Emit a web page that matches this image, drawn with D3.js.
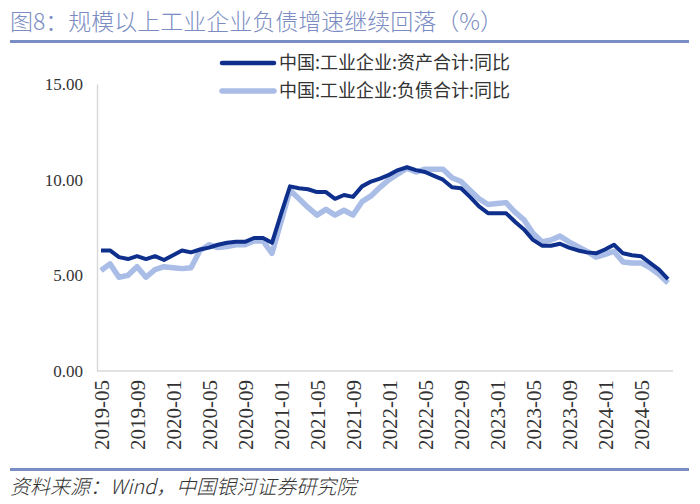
<!DOCTYPE html>
<html><head><meta charset="utf-8">
<script src="https://cdn.jsdelivr.net/npm/d3@7"></script>
<style>
html,body{margin:0;padding:0;background:#fff;}
svg{display:block;}
</style></head>
<body>
<svg id="chart" width="700" height="504"></svg>
<script>
const months = ["2019-05","2019-06","2019-07","2019-08","2019-09","2019-10","2019-11","2019-12",
"2020-01","2020-02","2020-03","2020-04","2020-05","2020-06","2020-07","2020-08","2020-09","2020-10","2020-11","2020-12",
"2021-01","2021-02","2021-03","2021-04","2021-05","2021-06","2021-07","2021-08","2021-09","2021-10","2021-11","2021-12",
"2022-01","2022-02","2022-03","2022-04","2022-05","2022-06","2022-07","2022-08","2022-09","2022-10","2022-11","2022-12",
"2023-01","2023-02","2023-03","2023-04","2023-05","2023-06","2023-07","2023-08","2023-09","2023-10","2023-11","2023-12",
"2024-01","2024-02","2024-03","2024-04","2024-05","2024-06","2024-07","2024-08"];

const assets = [6.3,6.3,5.95,5.85,6.0,5.85,6.0,5.8,
6.05,6.3,6.2,6.35,6.45,6.6,6.7,6.75,6.75,6.95,6.95,6.7,
8.2,9.65,9.55,9.5,9.35,9.35,9.0,9.2,9.1,9.65,9.9,10.05,
10.25,10.5,10.65,10.5,10.4,10.2,10.0,9.6,9.55,9.1,8.6,8.25,
8.25,8.25,7.8,7.4,6.85,6.55,6.55,6.65,6.45,6.3,6.2,6.15,
6.35,6.6,6.15,6.05,6.0,5.65,5.3,4.8];

const liabilities = [5.25,5.6,4.9,5.0,5.45,4.9,5.3,5.45,
5.4,5.35,5.4,6.3,6.6,6.45,6.5,6.6,6.6,6.8,6.8,6.15,
7.8,9.45,9.0,8.55,8.15,8.45,8.15,8.4,8.15,8.85,9.15,9.6,
10.0,10.3,10.6,10.4,10.55,10.55,10.55,10.1,9.9,9.45,9.0,8.7,
8.75,8.8,8.3,7.9,7.2,6.75,6.85,7.05,6.75,6.5,6.25,5.95,
6.1,6.25,5.7,5.65,5.65,5.4,5.05,4.6];

const xTickLabels = ["2019-05","2019-09","2020-01","2020-05","2020-09","2021-01","2021-05","2021-09",
"2022-01","2022-05","2022-09","2023-01","2023-05","2023-09","2024-01","2024-05"];
const yTicks = [0,5,10,15];

const seriesNames = ["中国:工业企业:资产合计:同比","中国:工业企业:负债合计:同比"];
const titleText = "图8：规模以上工业企业负债增速继续回落（%）";
const sourceText = "资料来源：Wind，中国银河证券研究院";

const colors = ["#0e2f8c","#a9bde6"];
const widths = [4,5.5];

const svg = d3.select("#chart");
const CJK = "'Noto Sans CJK SC','Noto Sans',sans-serif";

// Title
svg.append("text").attr("x",10).attr("y",30)
  .attr("font-family",CJK).attr("font-size",23).attr("font-weight",300).attr("fill","#7a8cc2")
  .text(titleText);
svg.append("line").attr("x1",10).attr("x2",689).attr("y1",41.5).attr("y2",41.5)
  .attr("stroke","#7b8ec3").attr("stroke-width",3);

// Bottom rule & source
svg.append("line").attr("x1",10).attr("x2",689).attr("y1",469.5).attr("y2",469.5)
  .attr("stroke","#7b8ec3").attr("stroke-width",3);
svg.append("text").attr("x",10).attr("y",494)
  .attr("font-family",CJK).attr("font-size",20).attr("font-weight",300).attr("font-style","italic").attr("fill","#333")
  .text(sourceText);

const x = d3.scalePoint().domain(months).range([101,668]);
const y = d3.scaleLinear().domain([0,15]).range([371,84]);

// Axes
const yAxis = d3.axisLeft(y).tickValues(yTicks).tickFormat(d3.format(".2f")).tickSize(0).tickPadding(14);
const gy = svg.append("g").attr("transform","translate(97,0)").call(yAxis);
gy.select(".domain").attr("stroke","#d9d9d9").attr("stroke-width",1.5);
gy.selectAll("text").attr("font-family","'Liberation Serif',serif").attr("font-size",17).attr("fill","#333");

const xAxis = d3.axisBottom(x).tickValues(xTickLabels).tickSize(0).tickPadding(8);
const gx = svg.append("g").attr("transform","translate(0,371)").call(xAxis);
gx.select(".domain").attr("d","M97,0H673").attr("stroke","#d9d9d9").attr("stroke-width",1.5);
gx.selectAll("text").attr("font-family","'Liberation Serif',serif").attr("font-size",21).attr("fill","#333")
  .attr("transform","rotate(-90)").attr("text-anchor","end").attr("dx","-9").attr("dy","0.35em")
  .attr("x",0).attr("y",0);

// Lines
const line = d3.line().x((d,i)=>x(months[i])).y(d=>y(d));
svg.append("path").attr("class","series").datum(liabilities).attr("d",line)
  .attr("fill","none").attr("stroke",colors[1]).attr("stroke-width",widths[1]).attr("stroke-linejoin","round");
svg.append("path").attr("class","series").datum(assets).attr("d",line)
  .attr("fill","none").attr("stroke",colors[0]).attr("stroke-width",widths[0]).attr("stroke-linejoin","round");

// Legend
const legend = svg.append("g");
seriesNames.forEach((name,i)=>{
  const yy = 63 + i*28;
  legend.append("line").attr("x1",222).attr("x2",274).attr("y1",yy).attr("y2",yy)
    .attr("stroke",colors[i]).attr("stroke-width",i===0?4.5:5.5).attr("stroke-linecap","round");
  legend.append("text").attr("x",279).attr("y",yy).attr("dy","0.35em")
    .attr("font-family",CJK).attr("font-size",18).attr("fill","#333").text(name);
});
</script>
</body></html>
